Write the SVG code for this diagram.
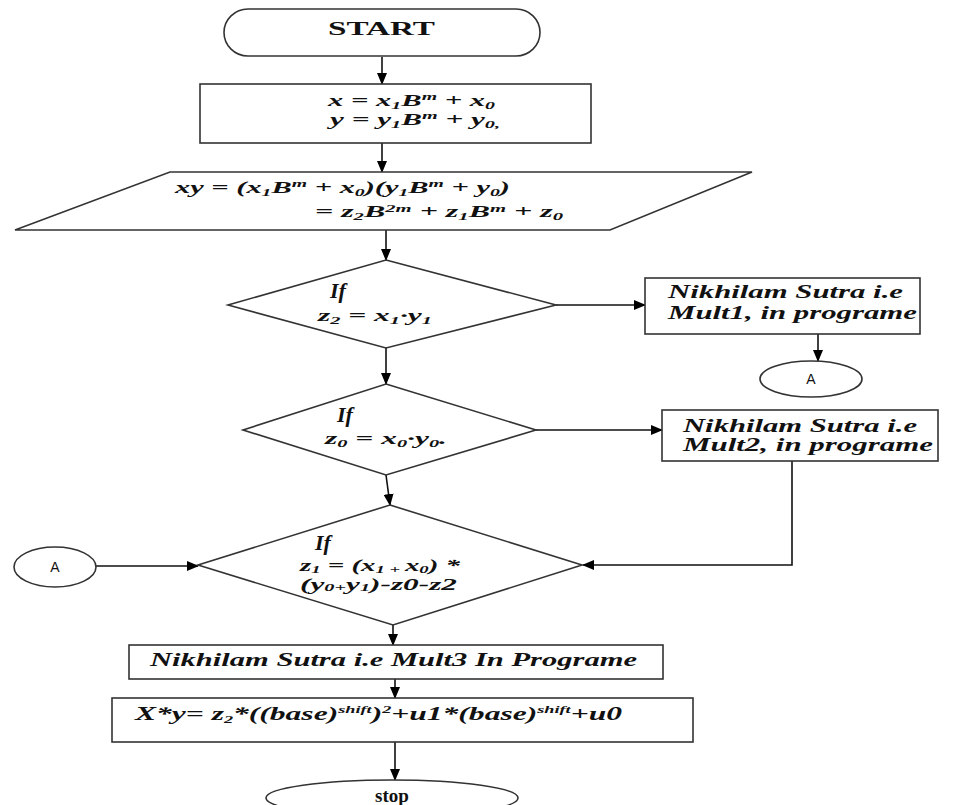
<svg xmlns="http://www.w3.org/2000/svg" width="968" height="805" viewBox="0 0 968 805">
<defs>
<marker id="ah" markerWidth="12" markerHeight="10" refX="11" refY="5" orient="auto" markerUnits="userSpaceOnUse">
<path d="M0,0 L12,5 L0,10 Z" fill="#000"/>
</marker>
<style>
.shape{fill:#fff;stroke:#333;stroke-width:1.6}
.conn{fill:none;stroke:#111;stroke-width:1.6}
.t{font-family:"Liberation Serif","Times New Roman",serif;fill:#111}
.m{font-family:"Liberation Serif","Times New Roman",serif;font-style:italic;font-weight:bold;font-size:17px;fill:#111}
.b{font-weight:bold}
.s{font-size:11px}
.if{font-family:"Liberation Serif","Times New Roman",serif;font-style:italic;font-weight:bold;font-size:22px;fill:#111}
.lbl{font-family:"Liberation Serif","Times New Roman",serif;font-style:italic;font-weight:bold;font-size:19px;fill:#111}
.a{font-family:"Liberation Sans",Arial,sans-serif;font-size:14px;fill:#111}
</style>
</defs>
<rect width="968" height="805" fill="#fff"/>

<g id="connectors">
<line class="conn" x1="382" y1="57" x2="382" y2="84" marker-end="url(#ah)"/>
<line class="conn" x1="382" y1="143" x2="382" y2="172" marker-end="url(#ah)"/>
<line class="conn" x1="386" y1="230" x2="386" y2="260" marker-end="url(#ah)"/>
<line class="conn" x1="556" y1="305" x2="645" y2="305" marker-end="url(#ah)"/>
<line class="conn" x1="818" y1="334" x2="818" y2="361" marker-end="url(#ah)"/>
<line class="conn" x1="386" y1="348" x2="386" y2="384" marker-end="url(#ah)"/>
<line class="conn" x1="536" y1="430" x2="662" y2="430" marker-end="url(#ah)"/>
<polyline class="conn" points="792,461 792,565 583,565" marker-end="url(#ah)"/>
<line class="conn" x1="386" y1="475" x2="390" y2="505" marker-end="url(#ah)"/>
<line class="conn" x1="96" y1="566" x2="198" y2="566" marker-end="url(#ah)"/>
<line class="conn" x1="393" y1="625" x2="393" y2="645" marker-end="url(#ah)"/>
<line class="conn" x1="395" y1="679" x2="395" y2="698" marker-end="url(#ah)"/>
<line class="conn" x1="395" y1="742" x2="395" y2="780" marker-end="url(#ah)"/>
</g>

<g id="start">
<rect class="shape" x="224" y="9" width="316" height="47" rx="24" ry="23.5"/>
<text class="t b" x="328" y="35" font-size="19" textLength="107" lengthAdjust="spacingAndGlyphs">START</text>
</g>

<g id="split">
<rect class="shape" x="200" y="84" width="391" height="59"/>
<text class="m" x="328" y="106" textLength="167" lengthAdjust="spacingAndGlyphs">x = x<tspan class="s" dy="3">1</tspan><tspan dy="-3">B</tspan><tspan class="s" dy="-6">m</tspan><tspan dy="6"> + x</tspan><tspan class="s" dy="3">0</tspan></text>
<text class="m" x="330" y="125" textLength="170" lengthAdjust="spacingAndGlyphs">y = y<tspan class="s" dy="3">1</tspan><tspan dy="-3">B</tspan><tspan class="s" dy="-6">m</tspan><tspan dy="6"> + y</tspan><tspan class="s" dy="3">0,</tspan></text>
</g>

<g id="product">
<polygon class="shape" points="170,172 752,172 610,230 15,230"/>
<text class="m" x="175" y="193" textLength="335" lengthAdjust="spacingAndGlyphs">xy = (x<tspan class="s" dy="3">1</tspan><tspan dy="-3">B</tspan><tspan class="s" dy="-6">m</tspan><tspan dy="6"> + x</tspan><tspan class="s" dy="3">0</tspan><tspan dy="-3">)(y</tspan><tspan class="s" dy="3">1</tspan><tspan dy="-3">B</tspan><tspan class="s" dy="-6">m</tspan><tspan dy="6"> + y</tspan><tspan class="s" dy="3">0</tspan><tspan dy="-3">)</tspan></text>
<text class="m" x="315" y="217" textLength="248" lengthAdjust="spacingAndGlyphs">= z<tspan class="s" dy="3">2</tspan><tspan dy="-3">B</tspan><tspan class="s" dy="-5">2m</tspan><tspan dy="5"> + z</tspan><tspan class="s" dy="3">1</tspan><tspan dy="-3">B</tspan><tspan class="s" dy="-5">m</tspan><tspan dy="5"> + z</tspan><tspan class="s" dy="3">0</tspan></text>
</g>

<g id="if1">
<polygon class="shape" points="386,260 556,305 386,348 228,305"/>
<text class="if" x="330" y="298">If</text>
<text class="m" x="318" y="321" textLength="114" lengthAdjust="spacingAndGlyphs">z<tspan class="s" dy="3">2</tspan><tspan dy="-3"> = x</tspan><tspan class="s" dy="3">1</tspan><tspan dy="-3">·y</tspan><tspan class="s" dy="3">1</tspan></text>
</g>

<g id="mult1">
<rect class="shape" x="645" y="278" width="275" height="56"/>
<text class="lbl" x="668" y="298" textLength="235" lengthAdjust="spacingAndGlyphs">Nikhilam Sutra i.e</text>
<text class="lbl" x="668" y="319" textLength="249" lengthAdjust="spacingAndGlyphs">Mult1, in programe</text>
</g>

<g id="connA1">
<ellipse class="shape" cx="811" cy="379" rx="51" ry="18"/>
<text class="a" x="811" y="384" text-anchor="middle">A</text>
</g>

<g id="if2">
<polygon class="shape" points="386,384 536,430 386,475 243,430"/>
<text class="if" x="337" y="422">If</text>
<text class="m" x="325" y="444" textLength="122" lengthAdjust="spacingAndGlyphs">z<tspan class="s" dy="3">0</tspan><tspan dy="-3"> = x</tspan><tspan class="s" dy="3">0</tspan><tspan dy="-3">·y</tspan><tspan class="s" dy="3">0</tspan><tspan dy="-3">.</tspan></text>
</g>

<g id="mult2">
<rect class="shape" x="662" y="410" width="276" height="51"/>
<text class="lbl" x="683" y="432" textLength="234" lengthAdjust="spacingAndGlyphs">Nikhilam Sutra i.e</text>
<text class="lbl" x="683" y="451" textLength="250" lengthAdjust="spacingAndGlyphs">Mult2, in programe</text>
</g>

<g id="if3">
<polygon class="shape" points="390,505 582,565 393,625 198,565"/>
<text class="if" x="315" y="550">If</text>
<text class="m" x="300" y="571" textLength="160" lengthAdjust="spacingAndGlyphs">z<tspan class="s" dy="2">1</tspan><tspan dy="-2"> = (x</tspan><tspan class="s" dy="2">1 + </tspan><tspan dy="-2">x</tspan><tspan class="s" dy="2">0</tspan><tspan dy="-2">) *</tspan></text>
<text class="m" x="300" y="590" textLength="157" lengthAdjust="spacingAndGlyphs">(y<tspan class="s" dy="1">0+</tspan><tspan dy="-1">y</tspan><tspan class="s" dy="1">1</tspan><tspan dy="-1">)-z0-z2</tspan></text>
</g>

<g id="connA2">
<ellipse class="shape" cx="55" cy="567" rx="41" ry="20"/>
<text class="a" x="55" y="572" text-anchor="middle">A</text>
</g>

<g id="mult3">
<rect class="shape" x="129" y="645" width="534" height="34"/>
<text class="lbl" x="150" y="666" textLength="487" lengthAdjust="spacingAndGlyphs">Nikhilam Sutra i.e Mult3 In Programe</text>
</g>

<g id="result">
<rect class="shape" x="112" y="698" width="581" height="44"/>
<text class="lbl" x="135" y="720" textLength="487" lengthAdjust="spacingAndGlyphs">X*y= z<tspan class="s" dy="3">2</tspan><tspan dy="-3">*((base)</tspan><tspan class="s" dy="-7">shift</tspan><tspan dy="7">)</tspan><tspan class="s" dy="-7">2</tspan><tspan dy="7">+u1*(base)</tspan><tspan class="s" dy="-7">shift</tspan><tspan dy="7">+u0</tspan></text>
</g>

<g id="stop">
<ellipse class="shape" cx="392" cy="798" rx="126" ry="18"/>
<text class="t b" x="392" y="802" font-size="19" text-anchor="middle">stop</text>
</g>
</svg>
